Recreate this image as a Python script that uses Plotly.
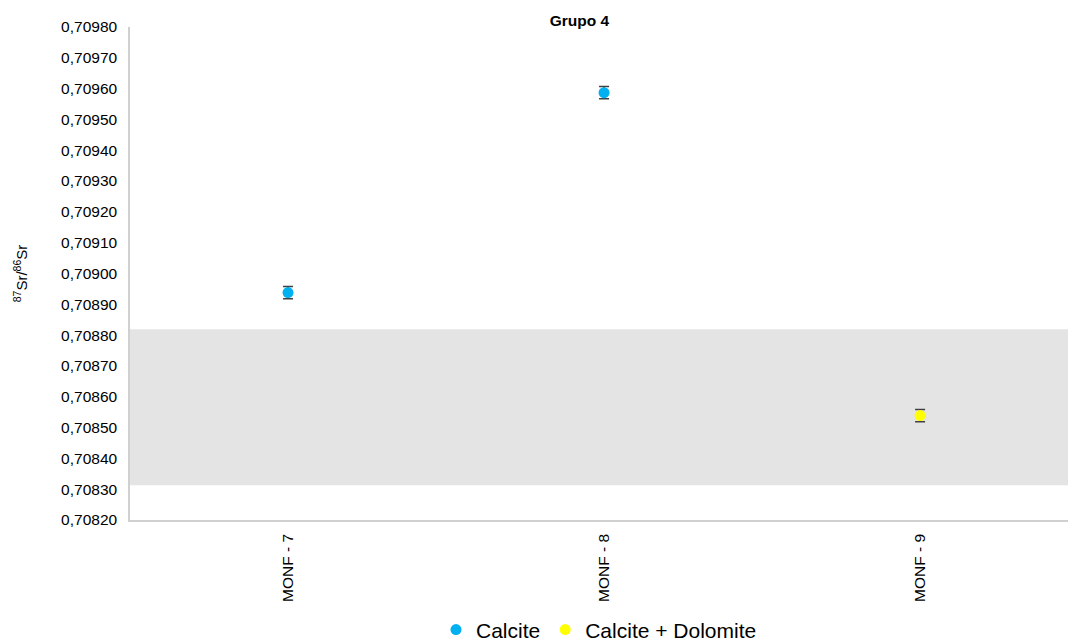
import plotly.graph_objects as go

# Sample data: 87Sr/86Sr ratios with 2-sigma uncertainty
samples = ["MONF - 7", "MONF - 8", "MONF - 9"]
calcite_samples = ["MONF - 7", "MONF - 8"]
calcite_values = [0.708938, 0.709587]
calcite_errors = [0.000020, 0.000020]
dolomite_samples = ["MONF - 9"]
dolomite_values = [0.708539]
dolomite_errors = [0.000020]

# Reference seawater band
band_low = 0.708313
band_high = 0.708819

y_min, y_max = 0.70820, 0.70980

fig = go.Figure()

fig.add_trace(go.Scatter(
    x=calcite_samples, y=calcite_values, mode="markers", name="Calcite",
    marker=dict(color="#00B0F0", size=11),
    error_y=dict(type="data", array=calcite_errors, color="#404040",
                 thickness=1.5, width=5),
))
fig.add_trace(go.Scatter(
    x=dolomite_samples, y=dolomite_values, mode="markers",
    name="Calcite + Dolomite",
    marker=dict(color="#FFFF00", size=11),
    error_y=dict(type="data", array=dolomite_errors, color="#404040",
                 thickness=1.5, width=5),
))

fig.add_shape(type="rect", xref="paper", yref="y", x0=0, x1=1,
              y0=band_low, y1=band_high, fillcolor="#E4E4E4",
              line=dict(width=0), layer="below")

fig.update_layout(
    width=1068, height=641,
    margin=dict(l=130, r=0, t=27, b=121, autoexpand=False),
    paper_bgcolor="white", plot_bgcolor="white",
    separators=",.",
    font=dict(family="Liberation Sans, Arial, sans-serif", size=15,
              color="#000000"),
    title=dict(text="<b>Grupo 4</b>", x=0.5425, xanchor="center",
               y=0.968, yanchor="middle", font=dict(size=15.5)),
    showlegend=True,
    legend=dict(orientation="h", x=0.5, xanchor="center", y=-0.223,
                yanchor="middle", font=dict(size=21), itemsizing="trace",
                tracegroupgap=0, itemwidth=30),
    xaxis=dict(
        type="category", categoryorder="array", categoryarray=samples,
        range=[-0.5, 2.468], showgrid=False, showline=True,
        linecolor="#D0D0D0", linewidth=1.5, ticks="", tickangle=-90,
        tickfont=dict(size=15.5), zeroline=False, ticklabelstandoff=6,
        automargin=False,
    ),
    yaxis=dict(
        range=[y_min, y_max], dtick=0.0001, tick0=y_min,
        tickformat=".5f", showgrid=False, showline=True,
        linecolor="#D0D0D0", linewidth=1.5, ticks="", zeroline=False,
        tickfont=dict(size=15.5), ticklabelstandoff=8, automargin=False,
        title=dict(text="<sup>87</sup>Sr/<sup>86</sup>Sr",
                   font=dict(size=15), standoff=30),
    ),
)

fig.write_html("out.html")
